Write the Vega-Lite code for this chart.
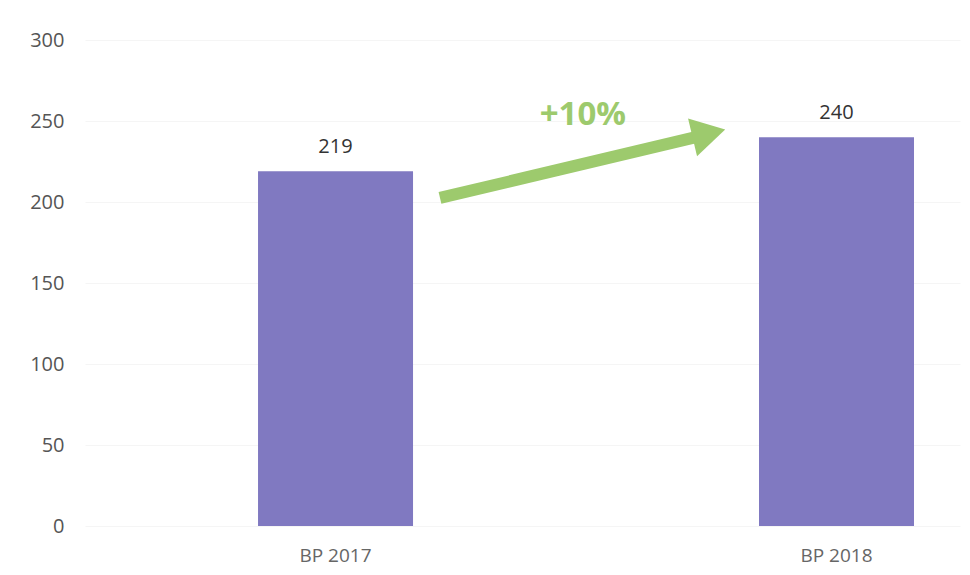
{
  "$schema": "https://vega.github.io/schema/vega-lite/v6.json",
  "width": 875,
  "height": 486,
  "autosize": "none",
  "padding": {"left": 85, "top": 40, "right": 10, "bottom": 49},
  "background": "white",
  "config": {
    "view": {"stroke": null},
    "font": "Open Sans"
  },
  "datasets": {
    "bars": [
      {"plan": "BP 2017", "value": 219},
      {"plan": "BP 2018", "value": 240}
    ],
    "arrow": [
      {"x": 0.4057, "y": 202.5, "x2": 0.703, "y2": 240.7}
    ],
    "head": [
      {"x": 0.713, "y": 242.3}
    ],
    "note": [
      {"x": 0.569, "y": 253.5, "label": "+10%"}
    ]
  },
  "layer": [
    {
      "data": {"name": "bars"},
      "layer": [
        {
          "mark": {"type": "bar", "color": "#8079C1"},
          "encoding": {
            "x": {
              "field": "plan", "type": "nominal", "sort": null,
              "scale": {"paddingInner": 0.6906, "paddingOuter": 0.2186, "align": 0.79},
              "axis": {"title": null, "labelAngle": 0, "domain": false, "ticks": false, "tickSize": 0, "labelPadding": 20, "labelFont": "Open Sans", "labelFontSize": 19, "labelColor": "#666666", "grid": false}
            },
            "y": {
              "field": "value", "type": "quantitative",
              "scale": {"domain": [0, 300], "nice": false},
              "axis": {"title": null, "values": [0, 50, 100, 150, 200, 250, 300], "domain": false, "ticks": false, "tickSize": 0, "labelPadding": 21, "labelFont": "Open Sans", "labelFontSize": 20, "labelColor": "#555555", "grid": true, "gridColor": "#f5f5f5", "gridWidth": 1}
            }
          }
        },
        {
          "mark": {"type": "text", "baseline": "middle", "dy": -24, "font": "Open Sans", "fontSize": 20, "color": "#333333"},
          "encoding": {
            "x": {"field": "plan", "type": "nominal", "sort": null},
            "y": {"field": "value", "type": "quantitative"},
            "text": {"field": "value", "type": "quantitative"}
          }
        }
      ]
    },
    {
      "data": {"name": "arrow"},
      "mark": {"type": "rule", "color": "#9DCA6D", "strokeWidth": 12, "strokeCap": "butt"},
      "encoding": {
        "x": {"field": "x", "type": "quantitative", "scale": {"domain": [0, 1], "nice": false, "zero": false}, "axis": null},
        "y": {"field": "y", "type": "quantitative"},
        "x2": {"field": "x2"},
        "y2": {"field": "y2"}
      }
    },
    {
      "data": {"name": "head"},
      "mark": {"type": "point", "shape": "triangle-right", "filled": true, "color": "#9DCA6D", "opacity": 1, "size": 1500, "angle": 346.6},
      "encoding": {
        "x": {"field": "x", "type": "quantitative", "scale": {"domain": [0, 1], "nice": false, "zero": false}, "axis": null},
        "y": {"field": "y", "type": "quantitative"}
      }
    },
    {
      "data": {"name": "note"},
      "mark": {"type": "text", "font": "Open Sans", "fontWeight": "bold", "fontSize": 33, "color": "#9DCA6D", "baseline": "middle", "align": "center"},
      "encoding": {
        "x": {"field": "x", "type": "quantitative", "scale": {"domain": [0, 1], "nice": false, "zero": false}, "axis": null},
        "y": {"field": "y", "type": "quantitative"},
        "text": {"field": "label"}
      }
    }
  ],
  "resolve": {"scale": {"x": "independent"}}
}
